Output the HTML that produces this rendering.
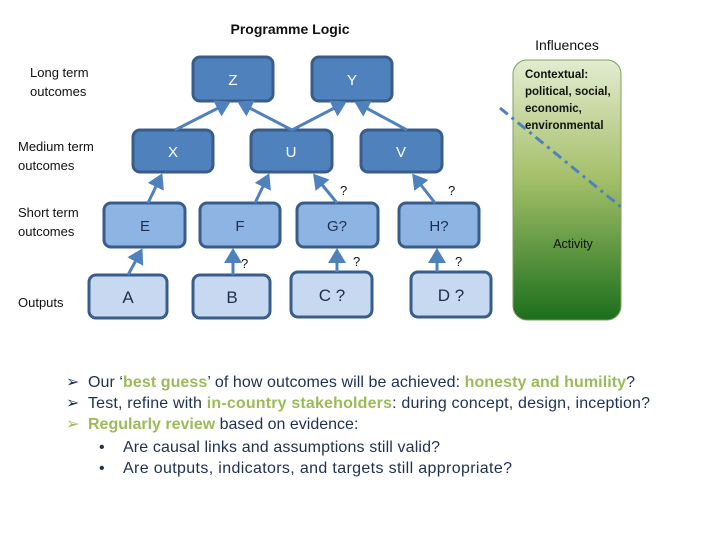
<!DOCTYPE html>
<html><head><meta charset="utf-8"><style>
body{margin:0;background:#fff;width:720px;height:540px;overflow:hidden}
svg text{font-family:"Liberation Sans",sans-serif}
</style></head><body>
<svg width="720" height="540" xmlns="http://www.w3.org/2000/svg">
<defs>
<marker id="ah" markerWidth="6" markerHeight="6" refX="4" refY="3" orient="auto" markerUnits="strokeWidth"><path d="M0,0 L5,3 L0,6 z" fill="#4f81bd"/></marker>
<linearGradient id="g" x1="0" y1="0" x2="0" y2="1"><stop offset="0" stop-color="#e3ecd0"/><stop offset="0.45" stop-color="#a5c06a"/><stop offset="1" stop-color="#1c6f1c"/></linearGradient>
</defs>
<text x="290" y="34" font-size="14" font-weight="bold" text-anchor="middle" fill="#111">Programme Logic</text>
<text x="567" y="50" font-size="14" text-anchor="middle" fill="#111">Influences</text>
<g font-size="13" fill="#111">
<text x="30" y="77">Long term</text><text x="30" y="96">outcomes</text>
<text x="18" y="151">Medium term</text><text x="18" y="170">outcomes</text>
<text x="18" y="217">Short term</text><text x="18" y="236">outcomes</text>
<text x="18" y="307">Outputs</text>
</g>
<g stroke="#385d8a" stroke-width="3">
<rect x="193" y="57" width="80" height="44" rx="7" fill="#4f81bd"/>
<rect x="312" y="57" width="80" height="44" rx="7" fill="#4f81bd"/>
<rect x="133" y="130" width="80" height="42" rx="7" fill="#4f81bd"/>
<rect x="251" y="130" width="81" height="42" rx="7" fill="#4f81bd"/>
<rect x="361" y="130" width="81" height="42" rx="7" fill="#4f81bd"/>
<rect x="104" y="203" width="81" height="44" rx="7" fill="#8eb4e3"/>
<rect x="200" y="203" width="80" height="44" rx="7" fill="#8eb4e3"/>
<rect x="297" y="203" width="81" height="44" rx="7" fill="#8eb4e3"/>
<rect x="399" y="203" width="80" height="44" rx="7" fill="#8eb4e3"/>
<rect x="89" y="275" width="78" height="43" rx="7" fill="#c6d9f1"/>
<rect x="193" y="275" width="77" height="43" rx="7" fill="#c6d9f1"/>
<rect x="291" y="272" width="81" height="45" rx="7" fill="#c6d9f1"/>
<rect x="411" y="272" width="80" height="45" rx="7" fill="#c6d9f1"/>
</g>
<g font-size="15" text-anchor="middle" fill="#fff">
<text x="233" y="85">Z</text><text x="352" y="85">Y</text>
<text x="173" y="157">X</text><text x="291" y="157">U</text><text x="401" y="157">V</text>
</g>
<g font-size="15" text-anchor="middle" fill="#1f2d4d">
<text x="145" y="231">E</text><text x="240" y="231">F</text><text x="337" y="231">G?</text><text x="439" y="231">H?</text>
<text x="128" y="303" font-size="17">A</text><text x="232" y="303" font-size="17">B</text><text x="332" y="301" font-size="17">C ?</text><text x="451" y="301" font-size="17">D ?</text>
</g>
<g stroke="#4f81bd" stroke-width="3" marker-end="url(#ah)">
<line x1="175" y1="130" x2="228" y2="103"/>
<line x1="292" y1="130" x2="240" y2="103"/>
<line x1="292" y1="130" x2="344" y2="103"/>
<line x1="407" y1="130" x2="357" y2="103"/>
<line x1="148" y1="203" x2="161" y2="176"/>
<line x1="255" y1="203" x2="268" y2="176"/>
<line x1="337" y1="203" x2="315" y2="176"/>
<line x1="435" y1="203" x2="414" y2="176"/>
<line x1="128" y1="275" x2="141" y2="251"/>
<line x1="233" y1="275" x2="233" y2="251"/>
<line x1="337" y1="272" x2="337" y2="251"/>
<line x1="437" y1="272" x2="437" y2="251"/>
</g>
<g font-size="13" fill="#111">
<text x="340" y="195">?</text><text x="448" y="195">?</text>
<text x="241" y="268">?</text><text x="353" y="266">?</text><text x="455" y="266">?</text>
</g>
<rect x="513" y="60" width="108" height="260" rx="14" fill="url(#g)" stroke="#7f9f5f" stroke-width="1"/>
<g font-size="11.5" font-weight="bold" fill="#111">
<text x="525" y="78">Contextual:</text><text x="525" y="95">political, social,</text><text x="525" y="112">economic,</text><text x="525" y="129">environmental</text>
</g>
<text x="573" y="248" font-size="12.5" text-anchor="middle" fill="#111">Activity</text>
<line x1="500" y1="108" x2="621" y2="207" stroke="#4f81bd" stroke-width="3" stroke-dasharray="10,5,3,5"/>
<g font-size="16" fill="#1f3050">
<text x="66" y="387">➢</text><text x="88" y="387" textLength="547" lengthAdjust="spacing">Our ‘<tspan fill="#9bbb59" font-weight="bold">best guess</tspan>’ of how outcomes will be achieved: <tspan fill="#9bbb59" font-weight="bold">honesty and humility</tspan>?</text>
<text x="66" y="408">➢</text><text x="88" y="408" textLength="562" lengthAdjust="spacing">Test, refine with <tspan fill="#9bbb59" font-weight="bold">in-country stakeholders</tspan>: during concept, design, inception?</text>
<text x="66" y="429" fill="#9bbb59">➢</text><text x="88" y="429"><tspan fill="#9bbb59" font-weight="bold">Regularly review</tspan> based on evidence:</text>
<text x="99" y="452">•</text><text x="123" y="452" textLength="317" lengthAdjust="spacing">Are causal links and assumptions still valid?</text>
<text x="99" y="473">•</text><text x="123" y="473" textLength="389" lengthAdjust="spacing">Are outputs, indicators, and targets still appropriate?</text>
</g>
</svg>
</body></html>
